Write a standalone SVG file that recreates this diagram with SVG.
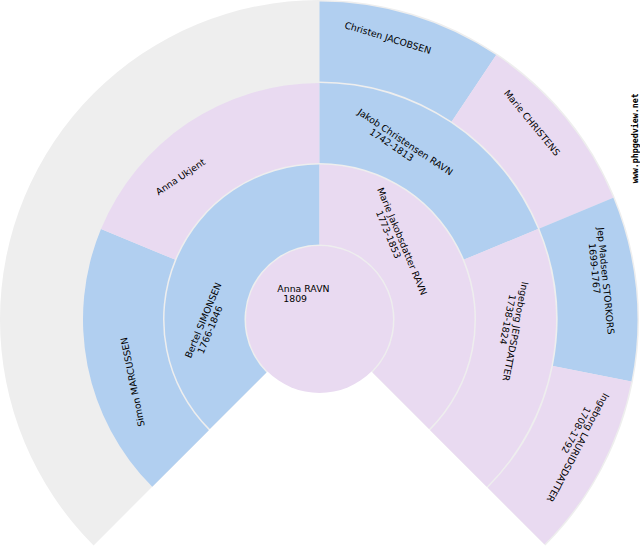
<svg xmlns="http://www.w3.org/2000/svg" width="640" height="550" viewBox="0 0 640 550">
<style>
.bg{fill:#eeeeee}
.m{fill:#b1cff0}
.f{fill:#e9daf1}
.t{font-family:"DejaVu Sans","Liberation Sans",sans-serif;font-size:9.33px;fill:#000000}
.w{font-family:"DejaVu Sans Mono","Liberation Mono",monospace;font-size:8px;font-weight:bold;fill:#000000}
</style>
<rect width="640" height="550" fill="#ffffff"/>
<g id="background">
<path class="bg" d="M319.5,319.5 L93.58,545.42 A319.5,319.5 0 1 1 545.42,545.42 Z"/>
</g>
<g id="connectors"/>
<g id="p12">
<path class="m" d="M319.5,1.5 A318,318 0 0 1 496.17,55.09 L451.73,121.61 A238,238 0 0 0 319.5,81.5 Z"/>
<text class="t" transform="translate(321.29,21.01) rotate(16.875)"><tspan x="23.74" y="0">Christen JACOBSEN</tspan></text>
</g>
<g id="p13">
<path class="f" d="M496.17,55.09 A318,318 0 0 1 613.29,197.81 L539.38,228.42 A238,238 0 0 0 451.73,121.61 Z"/>
<text class="t" transform="translate(486.45,72.5) rotate(50.625)"><tspan x="26.7" y="0">Marie CHRISTENS</tspan></text>
</g>
<g id="p14">
<path class="m" d="M613.29,197.81 A318,318 0 0 1 631.39,381.54 L552.93,365.93 A238,238 0 0 0 539.38,228.42 Z"/>
<text class="t" transform="translate(595.19,207.09) rotate(84.375)"><tspan x="20.77" y="0">Jep Madsen STORKORS</tspan><tspan x="35.6" y="10">1699-1767</tspan></text>
</g>
<g id="p15">
<path class="f" d="M631.39,381.54 A318,318 0 0 1 544.36,544.36 L487.79,487.79 A238,238 0 0 0 552.93,365.93 Z"/>
<text class="t" transform="translate(610.82,379.37) rotate(118.125)"><tspan x="14.84" y="0">Ingeborg LAURIDSDATTER</tspan><tspan x="35.6" y="10">1708-1792</tspan></text>
</g>
<g id="p4">
<path class="m" d="M152.27,486.73 A236.5,236.5 0 0 1 101,229 L174.91,259.61 A156.5,156.5 0 0 0 208.84,430.16 Z"/>
<text class="t" transform="translate(150.46,454.88) rotate(-101.25)"><tspan x="29.67" y="0">Simon MARCUSSEN</tspan></text>
</g>
<g id="p5">
<path class="f" d="M101,229 A236.5,236.5 0 0 1 319.5,83 L319.5,163 A156.5,156.5 0 0 0 174.91,259.61 Z"/>
<text class="t" transform="translate(128.98,215.24) rotate(-33.75)"><tspan x="35.6" y="0">Anna Ukjent</tspan></text>
</g>
<g id="p6">
<path class="m" d="M319.5,83 A236.5,236.5 0 0 1 538,229 L464.09,259.61 A156.5,156.5 0 0 0 319.5,163 Z"/>
<text class="t" transform="translate(342.14,103.74) rotate(33.75)"><tspan x="17.8" y="0">Jakob Christensen RAVN</tspan><tspan x="38.57" y="10">1742-1813</tspan></text>
</g>
<g id="p7">
<path class="f" d="M538,229 A236.5,236.5 0 0 1 486.73,486.73 L430.16,430.16 A156.5,156.5 0 0 0 464.09,259.61 Z"/>
<text class="t" transform="translate(526.73,258.01) rotate(101.25)"><tspan x="23.74" y="0">Ingeborg JEPSDATTER</tspan><tspan x="38.57" y="10">1738-1824</tspan></text>
</g>
<g id="p2">
<path class="m" d="M209.9,429.1 A155,155 0 0 1 319.5,164.5 L319.5,244.5 A75,75 0 0 0 266.47,372.53 Z"/>
<text class="t" transform="translate(179.35,386.25) rotate(-67.5)"><tspan x="29.67" y="0">Bertel SIMONSEN</tspan><tspan x="38.57" y="10">1766-1846</tspan></text>
</g>
<g id="p3">
<path class="f" d="M319.5,164.5 A155,155 0 0 1 429.1,429.1 L372.53,372.53 A75,75 0 0 0 319.5,244.5 Z"/>
<text class="t" transform="translate(370.19,172.7) rotate(67.5)"><tspan x="17.8" y="0">Marie Jakobsdatter RAVN</tspan><tspan x="38.57" y="10">1773-1853</tspan></text>
</g>
<g id="p1">
<circle class="f" cx="319.5" cy="319.5" r="73.5"/>
<text class="t" transform="translate(265.5,292.25)"><tspan x="11.87" y="0">Anna RAVN</tspan><tspan x="17.8" y="10">1809</tspan></text>
</g>
<text class="w" transform="translate(637.5,183.3) rotate(-90)" textLength="90" lengthAdjust="spacingAndGlyphs">www.phpgedview.net</text>
</svg>
